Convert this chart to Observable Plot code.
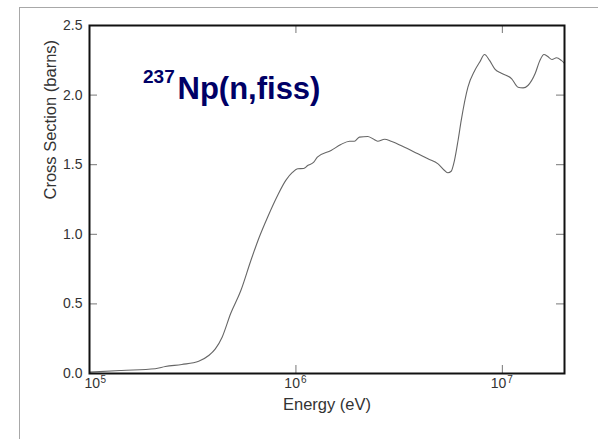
<!DOCTYPE html>
<html><head><meta charset="utf-8">
<script src="https://cdn.jsdelivr.net/npm/d3@7"></script>
<script src="https://cdn.jsdelivr.net/npm/@observablehq/plot@0.6"></script>
<style>
html,body{margin:0;padding:0;background:#fff;}
#wrap{position:relative;width:598px;height:439px;overflow:hidden;}
#border{position:absolute;left:19px;top:7px;right:-5px;bottom:-5px;border-left:1px solid #a8a8a8;border-top:1px solid #a8a8a8;}
#chart{position:absolute;left:0;top:0;}
</style></head><body>
<div id="wrap"><div id="border"></div><div id="chart"></div></div>
<script>
// Energy (eV) and fission cross section (barns)
const energy = [1.00e5,1.43e5,2.08e5,2.33e5,2.80e5,3.38e5,3.78e5,4.07e5,4.39e5,4.83e5,5.41e5,6.05e5,6.64e5,7.29e5,8.15e5,8.93e5,9.64e5,
  1.02e6,1.09e6,1.14e6,1.22e6,1.27e6,1.48e6,1.65e6,1.82e6,1.92e6,2.03e6,2.23e6,2.36e6,2.49e6,2.69e6,2.89e6,3.36e6,3.90e6,4.36e6,4.88e6,
  5.25e6,5.45e6,5.65e6,5.86e6,6.10e6,6.32e6,6.81e6,7.35e6,7.76e6,8.20e6,8.67e6,9.18e6,9.89e6,1.11e7,1.19e7,1.26e7,1.33e7,1.44e7,1.52e7,
  1.59e7,1.66e7,1.74e7,1.83e7,1.93e7,2.00e7];
const sigma = [0.010,0.022,0.034,0.050,0.065,0.088,0.129,0.177,0.261,0.431,0.596,0.812,0.979,1.123,1.279,1.387,1.446,
  1.471,1.473,1.494,1.518,1.554,1.602,1.645,1.669,1.669,1.698,1.703,1.686,1.669,1.683,1.669,1.626,1.578,1.542,1.506,
  1.458,1.442,1.453,1.530,1.674,1.818,2.057,2.177,2.236,2.292,2.249,2.189,2.157,2.117,2.057,2.052,2.069,2.153,2.249,
  2.292,2.277,2.256,2.268,2.249,2.228];
const xTicks = [1e5, 1e6, 1e7];
const xTickBase = ["10", "10", "10"];
const xTickExp = ["5", "6", "7"];
const yTicks = [0, 0.5, 1.0, 1.5, 2.0, 2.5];
const yTickLabels = ["0.0", "0.5", "1.0", "1.5", "2.0", "2.5"];
const titleSup = "237";
const titleMain = "Np(n,fiss)";
const xLabel = "Energy (eV)";
const yLabel = "Cross Section (barns)";

const data = energy.map((e, i) => ({e, s: sigma[i]}));
const W = 598, H = 439, mL = 89, mT = 25, mR = 34, mB = 66;
const iw = W - mL - mR, ih = H - mT - mB, tk = 8;
const tickColor = "#777", labelColor = "#333", navy = "#000066";

const chart = Plot.plot({
  width: W, height: H,
  marginLeft: mL, marginTop: mT, marginRight: mR, marginBottom: mB,
  style: {fontFamily: "'Liberation Sans', Arial, sans-serif", background: "transparent", overflow: "visible"},
  x: {type: "log", domain: [1e5, 2e7], axis: null},
  y: {domain: [0, 2.5], axis: null},
  marks: [
    Plot.line(data, {x: "e", y: "s", stroke: "#666", strokeWidth: 1.1, curve: "monotone-x"}),
    // inward ticks on all four sides
    Plot.tickX(xTicks.slice(1), {x: d => d, insetTop: ih - tk, stroke: tickColor}),
    Plot.tickX(xTicks.slice(1), {x: d => d, insetBottom: ih - tk, stroke: tickColor}),
    Plot.tickY(yTicks.slice(1, -1), {y: d => d, insetRight: iw - tk, stroke: tickColor}),
    Plot.tickY(yTicks.slice(1, -1), {y: d => d, insetLeft: iw - tk, stroke: tickColor}),
    Plot.frame({stroke: "#111", strokeWidth: 2}),
    // y tick labels
    Plot.text(yTicks, {y: d => d, text: (d, i) => yTickLabels[i], frameAnchor: "left", textAnchor: "end", dx: -7, fontSize: 14, fill: labelColor}),
    // x tick labels (10 with superscript exponent)
    Plot.text(xTicks.slice(0, 1), {x: d => d, text: (d, i) => xTickBase[i], frameAnchor: "bottom", textAnchor: "end", dx: 10.6, dy: 14.5, fontSize: 14, fill: labelColor}),
    Plot.text(xTicks.slice(0, 1), {x: d => d, text: (d, i) => xTickExp[i], frameAnchor: "bottom", textAnchor: "start", dx: 11, dy: 9.8, fontSize: 10, fill: labelColor}),
    Plot.text(xTicks.slice(1), {x: d => d, text: (d, i) => xTickBase[i + 1], frameAnchor: "bottom", textAnchor: "end", dx: 4, dy: 14.5, fontSize: 14, fill: labelColor}),
    Plot.text(xTicks.slice(1), {x: d => d, text: (d, i) => xTickExp[i + 1], frameAnchor: "bottom", textAnchor: "start", dx: 5, dy: 9.8, fontSize: 10, fill: labelColor}),
    // axis titles
    Plot.text([xLabel], {text: d => d, frameAnchor: "bottom", dy: 36.7, fontSize: 16.5, fill: labelColor}),
    Plot.text([yLabel], {text: d => d, frameAnchor: "left", rotate: -90, dx: -38.4, fontSize: 16.5, fill: labelColor}),
    // chart title
    Plot.text([titleSup], {text: d => d, frameAnchor: "top-left", textAnchor: "start", dx: 53.5, dy: 44, fontSize: 19, fontWeight: "bold", fill: navy}),
    Plot.text([titleMain], {text: d => d, frameAnchor: "top-left", textAnchor: "start", dx: 88, dy: 51.8, fontSize: 31, fontWeight: "bold", fill: navy})
  ]
});
document.getElementById("chart").appendChild(chart);
</script>
</body></html>
